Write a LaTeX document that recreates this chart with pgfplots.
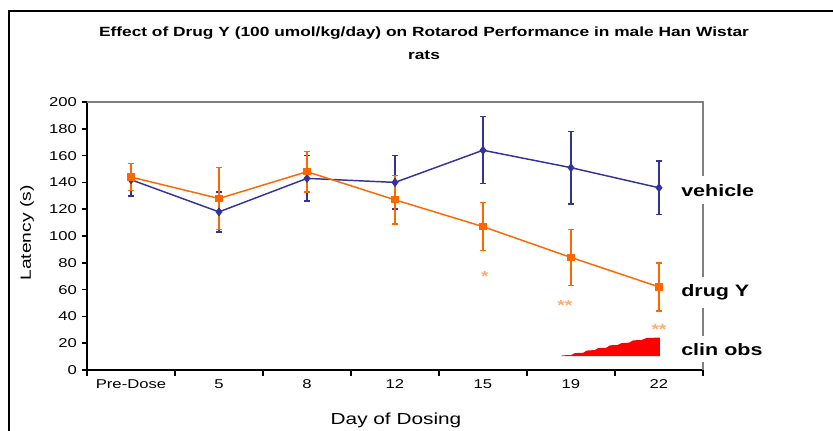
\documentclass[border=0pt]{standalone}
\usepackage{fontspec}
\setmainfont[FakeStretch=1.3]{Liberation Sans}
\usepackage{pgfplots}
\usepackage{pgfplotstable}
\pgfplotsset{compat=1.18}
\definecolor{veh}{RGB}{51,51,153}
\definecolor{drg}{RGB}{255,102,0}
\definecolor{starc}{RGB}{255,170,110}
\definecolor{spine}{RGB}{128,128,128}

\pgfplotstableread{
x y e
0 142 12
1 118 15
2 143 17
3 140 20
4 164 25
5 151 27
6 136 20
}\vehicle
\pgfplotstableread{
x y e
0 144 10
1 128 23
2 148 15
3 127 18
4 107 18
5 84 21
6 62 18
}\drug

\begin{document}
\begin{tikzpicture}
\useasboundingbox (0,0) rectangle (624.75pt,322.5pt);
% outer chart frame
\draw[line width=1.4pt, black] (6.75pt,-20pt) -- (6.75pt,314.25pt) -- (660pt,314.25pt);
% title
\node[font=\bfseries\fontsize{10}{12}\selectfont, anchor=center] at (318pt,297.75pt) {Effect of Drug Y (100 umol/kg/day) on Rotarod Performance in male Han Wistar};
\node[font=\bfseries\fontsize{10}{12}\selectfont, anchor=center] at (318pt,281.25pt) {rats};
% y label
\node[font=\fontsize{11.1}{13}\selectfont, rotate=90] at (20.25pt,147.75pt) {Latency (s)};
% x label
\node[font=\fontsize{12}{14}\selectfont, anchor=base] at (297pt,4.2pt) {Day of Dosing};
\begin{axis}[
  at={(65.25pt,45pt)}, anchor=south west,
  scale only axis, width=462pt, height=201pt,
  xmin=-0.5, xmax=6.5, ymin=0, ymax=200,
  axis x line*=bottom, axis y line*=left,
  axis line style={-, black, line width=1.4pt},
  xtick={0,...,6},
  xticklabels={Pre-Dose,5,8,12,15,19,22},
  major x tick style={draw=none},
  minor xtick={-0.5,0.5,...,6.5},
  minor x tick style={black, line width=1.1pt},
  minor tick length=4.5pt,
  ytick={0,20,...,200},
  y tick style={black, line width=1.1pt},
  major tick length=4pt,
  tick align=outside,
  tick label style={font=\fontsize{9.6}{11}\selectfont},
  /pgf/number format/assume math mode=true,
  clip=false,
]
\draw[spine, line width=1.1pt] (rel axis cs:0,1) -- (rel axis cs:1,1) -- (rel axis cs:1,0);
\addplot[veh, line width=1.1pt, mark=diamond*, mark size=2.6pt,
  error bars/.cd, y dir=both, y explicit, error mark=|,
  error bar style={line width=1.1pt, veh},
  error mark options={veh, line width=1.1pt, mark size=2.6pt, solid}]
  table[x=x, y=y, y error=e] {\vehicle};
\addplot[drg, line width=1.1pt, mark=square*, mark size=2.2pt,
  error bars/.cd, y dir=both, y explicit, error mark=|,
  error bar style={line width=1.1pt, drg},
  error mark options={drg, line width=1.1pt, mark size=2.6pt, solid}]
  table[x=x, y=y, y error=e] {\drug};
\addplot[fill=red, draw=none] coordinates {
 (4.894,10.4) (4.894,10.9) (5.0,11.2) (5.045,12.6) (5.14,12.9) (5.178,14.5)
 (5.27,14.9) (5.307,16.3) (5.40,16.6) (5.443,18.4) (5.53,18.7) (5.576,20.1)
 (5.66,20.4) (5.705,22.1) (5.80,22.4) (5.86,23.9) (6.01,24.2) (6.01,10.4)};
\node[text=starc, font=\bfseries\fontsize{11}{11}\selectfont] at (axis cs:4.02,70) {*};
\node[text=starc, font=\bfseries\fontsize{11}{11}\selectfont] at (axis cs:4.93,48) {**};
\node[text=starc, font=\bfseries\fontsize{11}{11}\selectfont] at (axis cs:6.0,30) {**};
\end{axis}
% series labels
\node[font=\bfseries\fontsize{12.4}{14}\selectfont, anchor=base west, fill=white, inner xsep=0pt, inner ysep=6pt] at (510.75pt,175.5pt) {vehicle};
\node[font=\bfseries\fontsize{12.4}{14}\selectfont, anchor=base west, fill=white, inner xsep=0pt, inner ysep=6pt] at (510.75pt,100pt) {drug Y};
\node[font=\bfseries\fontsize{12.4}{14}\selectfont, anchor=base west, fill=white, inner xsep=0pt, inner ysep=5pt] at (510.75pt,56.25pt) {clin obs};
\end{tikzpicture}
\end{document}
